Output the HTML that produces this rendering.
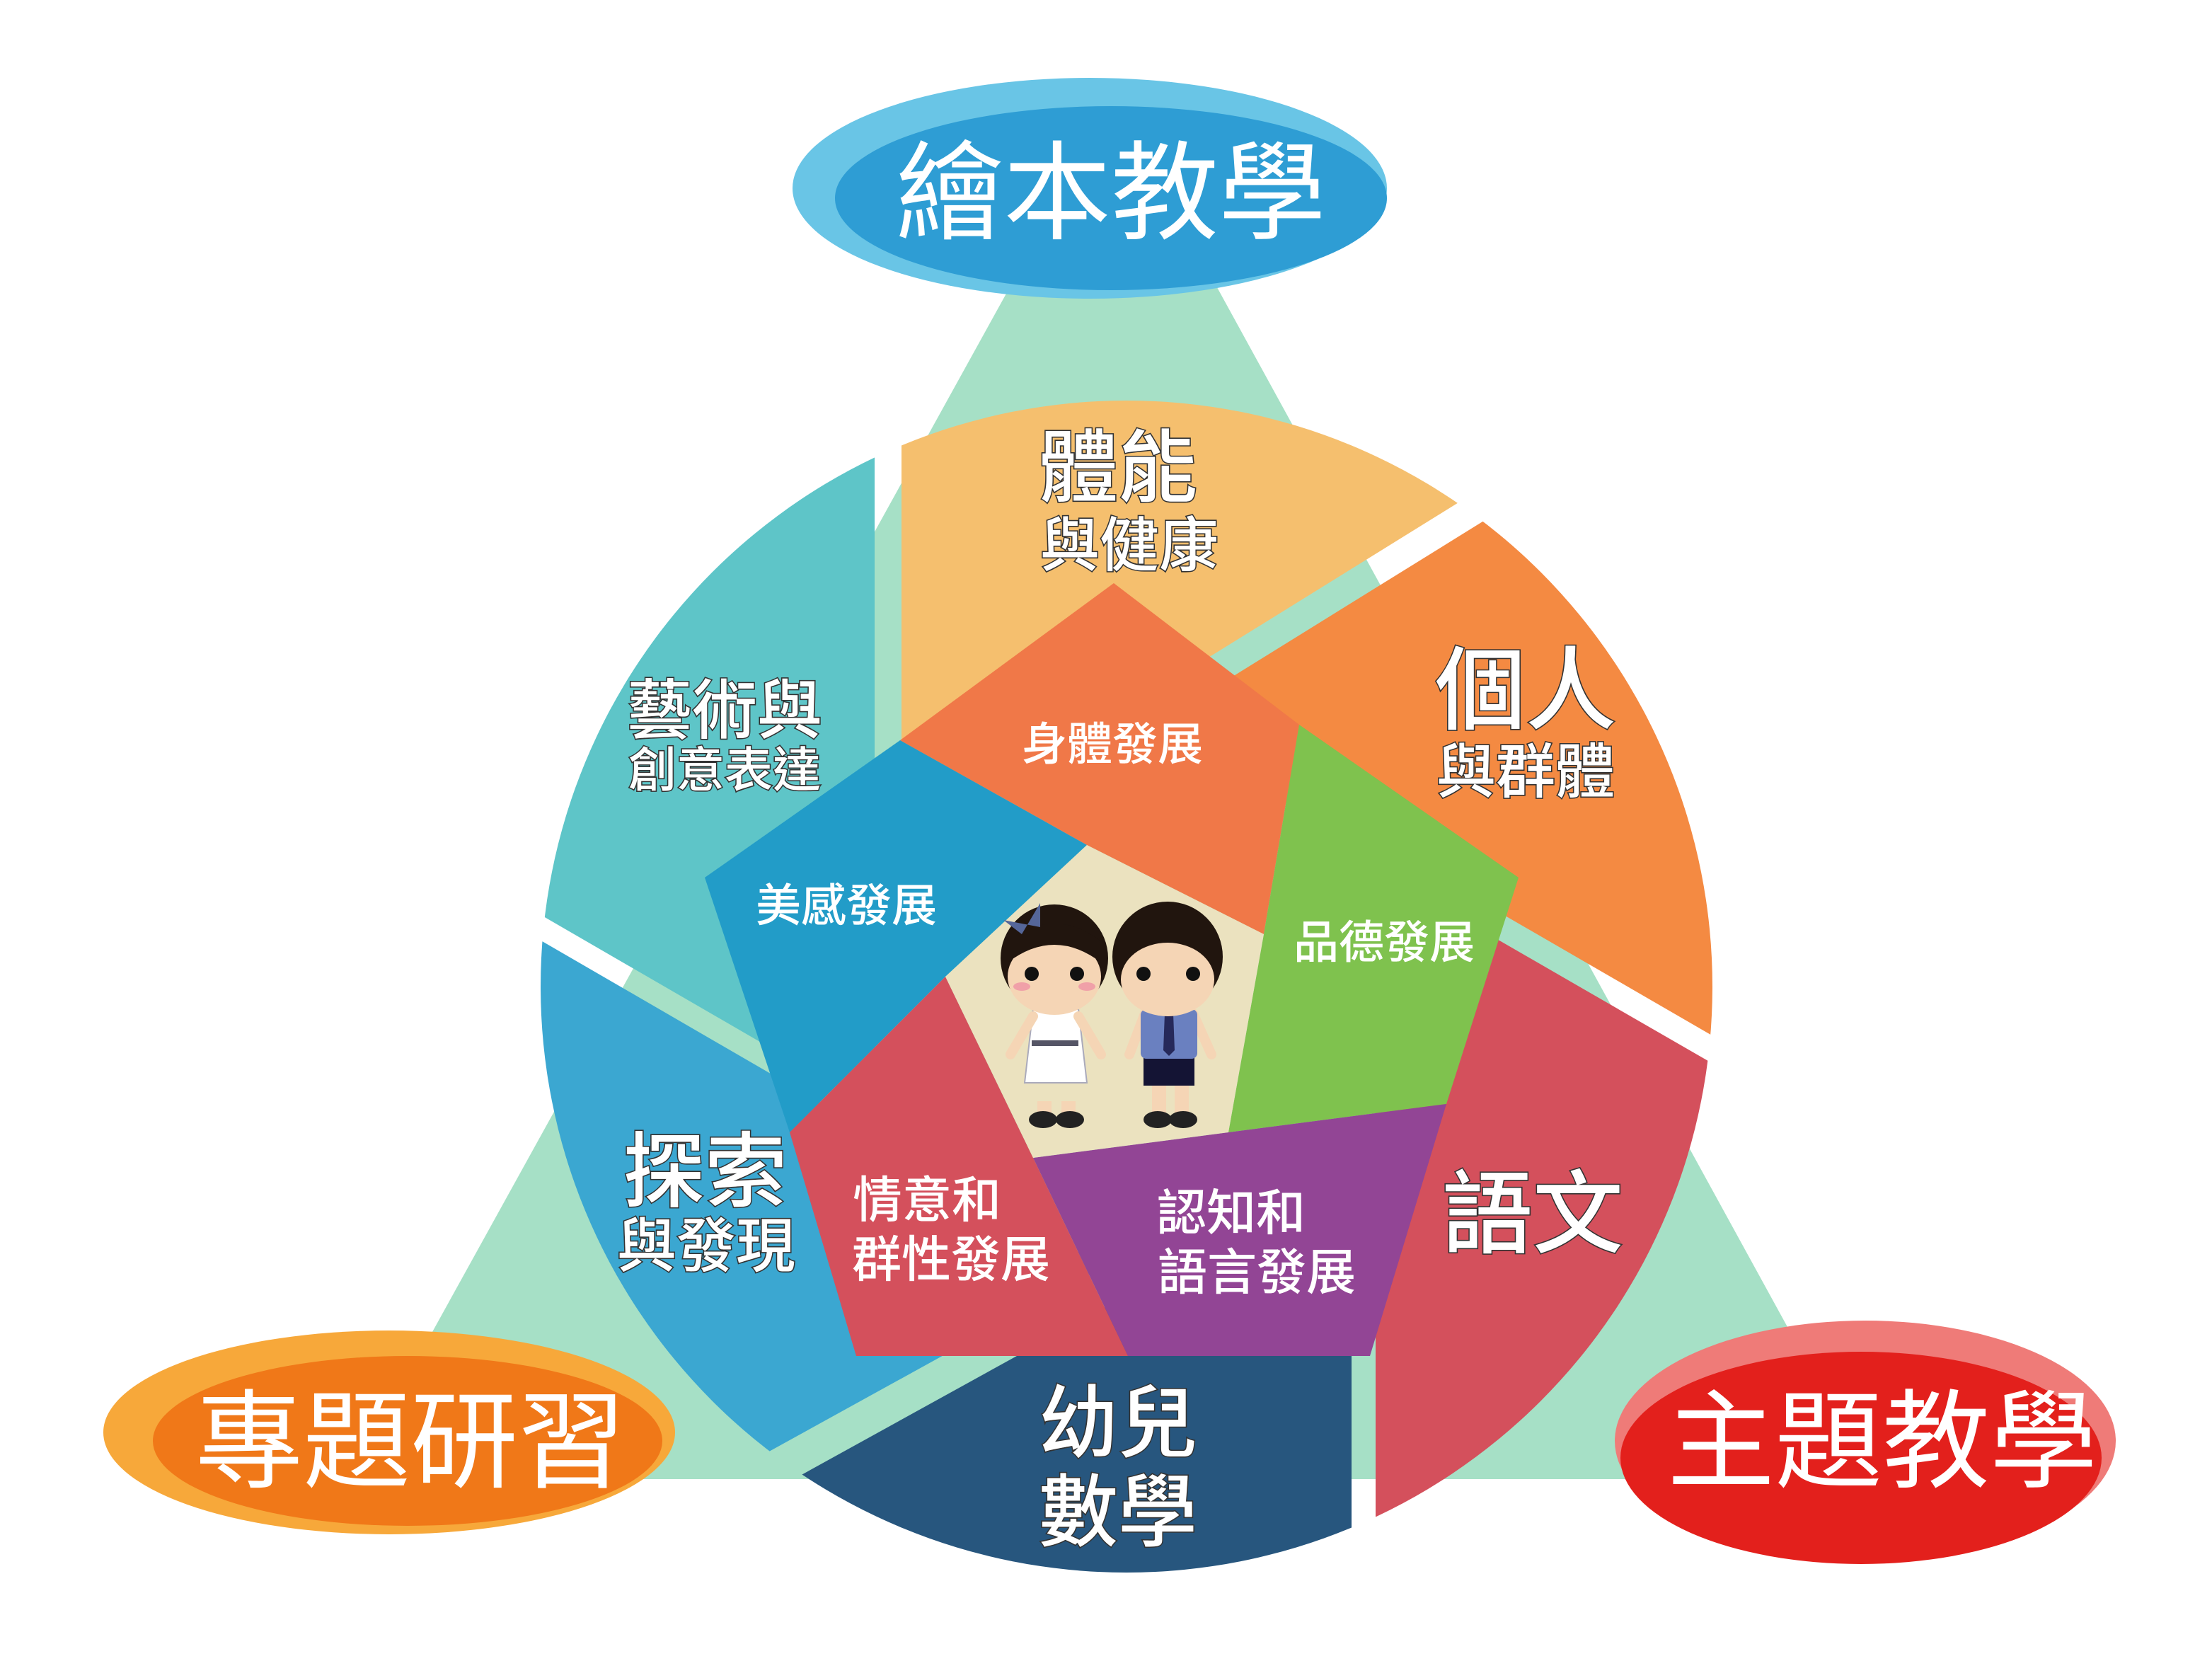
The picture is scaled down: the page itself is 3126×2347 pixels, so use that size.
<!DOCTYPE html>
<html><head><meta charset="utf-8"><style>
html,body{margin:0;padding:0;background:#fff;width:3126px;height:2347px;overflow:hidden;position:relative;}
svg{display:block;position:absolute;left:0;top:0;}
text{font-family:"Liberation Sans","Noto Sans CJK TC","WenQuanYi Zen Hei",sans-serif;text-anchor:middle;fill:#fff;}
.o{stroke:#333;stroke-width:1.6;paint-order:stroke;font-weight:500;}
.i{font-weight:500;}
.e{font-weight:normal;}
</style></head><body>
<svg width="3126" height="2347" viewBox="0 0 1563 1173.5" xmlns="http://www.w3.org/2000/svg" overflow="hidden">
<defs><clipPath id="c"><circle cx="796" cy="697" r="414"/></clipPath></defs>
<polygon points="787,70 248,1045 1322,1045" fill="#a6e0c6"/>
<g clip-path="url(#c)">
 <polygon points="0,0 618,0 618,783 0,425" fill="#5ec5c8"/>
 <polygon points="0,443 780,895 276,1173 0,1173" fill="#3ba7d1"/>
 <polygon points="329,1173 800,913 955,913 955,1173" fill="#27567e"/>
 <polygon points="972,614 1563,955 1563,1173 972,1173" fill="#d4505c"/>
 <polygon points="800,522 1563,49 1563,936 972,594" fill="#f48a42"/>
 <polygon points="637,0 1300,0 1300,188 637,599" fill="#f5bf6e"/>
</g>
<polygon points="636,523 787,412 918,512 893,660 768,597" fill="#f07848"/>
<polygon points="498,620 636,523 768,597 668,690 558,800" fill="#229cc8"/>
<polygon points="918,512 1073,620 1022,780 868,800 893,660" fill="#7fc24e"/>
<polygon points="1022,780 968,958 797,958 730,818 868,800" fill="#924595"/>
<polygon points="558,800 668,690 730,818 797,958 605,958" fill="#d4505c"/>
<polygon points="768,597 893,660 868,800 730,818 668,690" fill="#ebe2bf"/>
<g>
 <rect x="733" y="778" width="10" height="14" fill="#f5d5b5"/><rect x="750" y="778" width="10" height="14" fill="#f5d5b5"/>
 <ellipse cx="737" cy="791" rx="10" ry="6" fill="#222"/><ellipse cx="756" cy="791" rx="10" ry="6" fill="#222"/>
 <polygon points="730,713 762,713 768,765 724,765" fill="#fff" stroke="#aab" stroke-width="1"/>
 <rect x="729" y="735" width="33" height="4" fill="#556"/>
 <path d="M730,718 L714,745 M762,718 L778,745" stroke="#f5d5b5" stroke-width="7" stroke-linecap="round"/>
 <circle cx="745" cy="677" r="38" fill="#21150e"/>
 <ellipse cx="745" cy="690" rx="33" ry="27" fill="#f5d5b5"/>
 <path d="M712,680 Q745,655 778,680 L778,665 Q745,640 712,665Z" fill="#21150e"/>
 <circle cx="729" cy="688" r="5" fill="#111"/><circle cx="761" cy="688" r="5" fill="#111"/>
 <ellipse cx="722" cy="697" rx="6" ry="3" fill="#f0a0a8"/><ellipse cx="768" cy="697" rx="6" ry="3" fill="#f0a0a8"/>
 <path d="M709,650 L722,660 L735,638 L735,655Z" fill="#556699"/>
 <rect x="814" y="765" width="10" height="26" fill="#f5d5b5"/><rect x="830" y="765" width="10" height="26" fill="#f5d5b5"/>
 <ellipse cx="818" cy="791" rx="10" ry="6" fill="#222"/><ellipse cx="836" cy="791" rx="10" ry="6" fill="#222"/>
 <rect x="808" y="745" width="36" height="22" fill="#141434"/>
 <path d="M809,716 L798,745 M843,716 L856,745" stroke="#f5d5b5" stroke-width="7" stroke-linecap="round"/>
 <rect x="806" y="713" width="40" height="35" rx="4" fill="#6a80c0"/>
 <polygon points="823,716 829,716 830,742 826,746 822,742" fill="#26295a"/>
 <circle cx="825" cy="676" r="39" fill="#21150e"/>
 <ellipse cx="825" cy="692" rx="33" ry="26" fill="#f5d5b5"/>
 <circle cx="808" cy="688" r="5" fill="#111"/><circle cx="843" cy="688" r="5" fill="#111"/>
</g>
<ellipse cx="770" cy="133" rx="210" ry="78" fill="#69c5e6"/>
<ellipse cx="785" cy="140" rx="195" ry="65" fill="#2e9dd4"/>
<ellipse cx="275" cy="1012" rx="202" ry="72" fill="#f7a83a"/>
<ellipse cx="288" cy="1018" rx="180" ry="60" fill="#f07818"/>
<ellipse cx="1318" cy="1018" rx="177" ry="85" fill="#ef7b78"/>
<ellipse cx="1315" cy="1030" rx="170" ry="75" fill="#e3201c"/>
<text class="e" x="785" y="163" font-size="76">繪本教學</text>
<text class="e" x="290" y="1045" font-size="76">專題研習</text>
<text class="e" x="1330" y="1045" font-size="76">主題教學</text>
<text class="o" x="790" y="350" font-size="56">體能</text>
<text class="o" x="798" y="400" font-size="42">與健康</text>
<text class="o" x="1078" y="510" font-size="64">個人</text>
<text class="o" x="1078" y="560" font-size="42">與群體</text>
<text class="o" x="512" y="518" font-size="46">藝術與</text>
<text class="o" x="512" y="556" font-size="34">創意表達</text>
<text class="o" x="498" y="848" font-size="58">探索</text>
<text class="o" x="499" y="895" font-size="42">與發現</text>
<text class="o" x="1083" y="880" font-size="64">語文</text>
<text class="o" x="790" y="1025" font-size="56">幼兒</text>
<text class="o" x="790" y="1088" font-size="56">數學</text>
<text class="i" x="786" y="537" font-size="32">身體發展</text>
<text class="i" x="598" y="651" font-size="32">美感發展</text>
<text class="i" x="978" y="677" font-size="32">品德發展</text>
<text class="i" x="655" y="860" font-size="35">情意和</text>
<text class="i" x="672" y="902" font-size="35">群性發展</text>
<text class="i" x="870" y="869" font-size="35">認知和</text>
<text class="i" x="888" y="911" font-size="35">語言發展</text>
</svg>
</body></html>
